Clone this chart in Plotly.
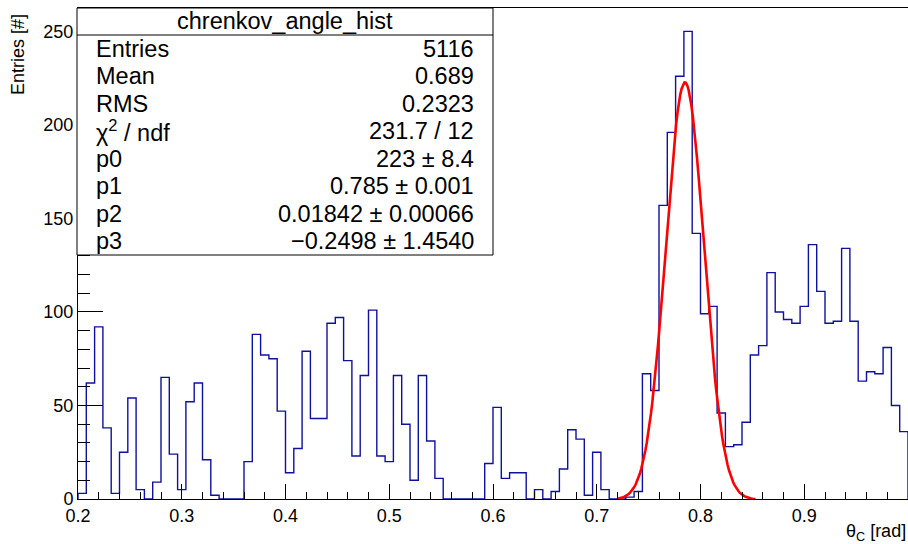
import numpy as np
import plotly.graph_objects as go

# ---------------- data ----------------
X_MIN = 0.2
X_MAX = 1.0
N_BINS = 100

counts = [
    3, 62, 92, 38, 3, 25, 54, 5, 0, 9,
    65, 24, 5, 52, 62, 21, 2, 0, 0, 0,
    20, 88, 77, 75, 47, 14, 27, 79, 43, 43,
    94, 97, 74, 23, 66, 101, 23, 20, 66, 40,
    10, 66, 31, 11, 0, 0, 0, 0, 0, 19,
    49, 11, 14, 14, 0, 5, 0, 4, 16, 37,
    32, 2, 25, 5, 0, 0, 1, 4, 67, 58,
    157, 196, 226, 250, 142, 99, 103, 46, 28, 29,
    41, 77, 82, 121, 100, 96, 94, 103, 136, 111,
    94, 95, 134, 95, 63, 68, 67, 81, 50, 36,
]

# fit parameters (gaus + const) as shown in the stats box
fit_p0 = 223.0
fit_p1 = 0.785
fit_p2 = 0.01842
fit_p3 = -0.2498
fit_range = [0.72, 0.853]

stat_labels = ["Entries", "Mean", "RMS", "\u03c7<sup>2</sup> / ndf", "p0", "p1", "p2", "p3"]
stat_values = ["5116", "0.689", "0.2323", "231.7 / 12", "223 \u00b1 8.4",
               "0.785 \u00b1 0.001", "0.01842 \u00b1 0.00066", "\u22120.2498 \u00b1 1.4540"]
stats_title = "chrenkov_angle_hist"

x_title = "\u03b8<sub>C</sub> [rad]"
y_title = "Entries [#]"

# ---------------- build ----------------
edges = np.linspace(X_MIN, X_MAX, N_BINS + 1)
hx = [edges[0]] + list(edges) + [edges[-1]]
hy = [0] + list(counts) + [counts[-1], 0]

fx = np.linspace(fit_range[0], fit_range[1], 100)
fy = fit_p0 * np.exp(-0.5 * ((fx - fit_p1) / fit_p2) ** 2) + fit_p3

y_max = 1.05 * max(counts)

FONT = "Liberation Sans, Arial, Helvetica, sans-serif"

fig = go.Figure()
fig.add_trace(go.Scatter(x=hx, y=hy, mode="lines", line=dict(color="#10109e", width=1.4, shape="hv"),
                         hoverinfo="skip", showlegend=False))
fig.add_trace(go.Scatter(x=fx, y=fy, mode="lines", line=dict(color="#ff0000", width=2.6),
                         hoverinfo="skip", showlegend=False))

W, H = 908, 544
ml, mr, mt, mb = 78, 0, 8, 45
pw = W - ml - mr
ph = H - mt - mb


def px_to_paper_x(px):
    return (px - ml) / pw


def px_to_paper_y(py):
    return (H - mb - py) / ph


fig.update_layout(
    width=W, height=H,
    margin=dict(l=ml, r=mr, t=mt, b=mb, pad=0),
    paper_bgcolor="white", plot_bgcolor="white",
    font=dict(family=FONT, size=18, color="black"),
    showlegend=False,
    xaxis=dict(range=[X_MIN, X_MAX], tick0=0.2, dtick=0.1, ticks="inside", ticklen=15,
               tickcolor="black", tickwidth=1, showgrid=False, zeroline=False,
               showline=True, linecolor="black", linewidth=1, mirror=True,
               tickfont=dict(size=18, family=FONT),
               minor=dict(dtick=0.02, ticks="inside", ticklen=7, tickcolor="black", showgrid=False)),
    yaxis=dict(range=[0, y_max], tick0=0, dtick=50, ticks="inside", ticklen=25,
               tickcolor="black", tickwidth=1, showgrid=False, zeroline=False,
               showline=True, linecolor="black", linewidth=1, mirror=True,
               tickfont=dict(size=18, family=FONT),
               minor=dict(dtick=10, ticks="inside", ticklen=12, tickcolor="black", showgrid=False)),
)

# stats box
bx0, bx1, by_top, by_sep, by_bot = 77, 493, 8, 35, 255
fig.add_shape(type="rect", xref="paper", yref="paper",
              x0=px_to_paper_x(bx0), x1=px_to_paper_x(bx1),
              y0=px_to_paper_y(by_bot), y1=px_to_paper_y(by_top),
              line=dict(color="black", width=1), fillcolor="white", layer="above")
fig.add_shape(type="line", xref="paper", yref="paper",
              x0=px_to_paper_x(bx0), x1=px_to_paper_x(bx1),
              y0=px_to_paper_y(by_sep), y1=px_to_paper_y(by_sep),
              line=dict(color="black", width=1), layer="above")

SFONT = dict(family=FONT, size=23.5, color="black")
fig.add_annotation(xref="paper", yref="paper", x=px_to_paper_x((bx0 + bx1) / 2), y=px_to_paper_y(21),
                   text=stats_title, showarrow=False, xanchor="center", yanchor="middle", font=SFONT)
row_h = (by_bot - by_sep) / len(stat_labels)
for k, (lab, val) in enumerate(zip(stat_labels, stat_values)):
    yc = by_sep + row_h * (k + 0.5)
    fig.add_annotation(xref="paper", yref="paper", x=px_to_paper_x(94), y=px_to_paper_y(yc),
                       text=lab, showarrow=False, xanchor="left", yanchor="middle", font=SFONT)
    fig.add_annotation(xref="paper", yref="paper", x=px_to_paper_x(476), y=px_to_paper_y(yc),
                       text=val, showarrow=False, xanchor="right", yanchor="middle", font=SFONT)

# axis titles (ROOT style: at the end of the axes)
fig.add_annotation(xref="paper", yref="paper", x=px_to_paper_x(18), y=px_to_paper_y(55),
                   text=y_title, textangle=-90, showarrow=False, xanchor="center", yanchor="middle",
                   font=dict(family=FONT, size=18, color="black"))
fig.add_annotation(xref="paper", yref="paper", x=1.0, y=px_to_paper_y(532),
                   text=x_title, showarrow=False, xanchor="right", yanchor="middle",
                   font=dict(family=FONT, size=18, color="black"))

fig.write_html("out.html")
